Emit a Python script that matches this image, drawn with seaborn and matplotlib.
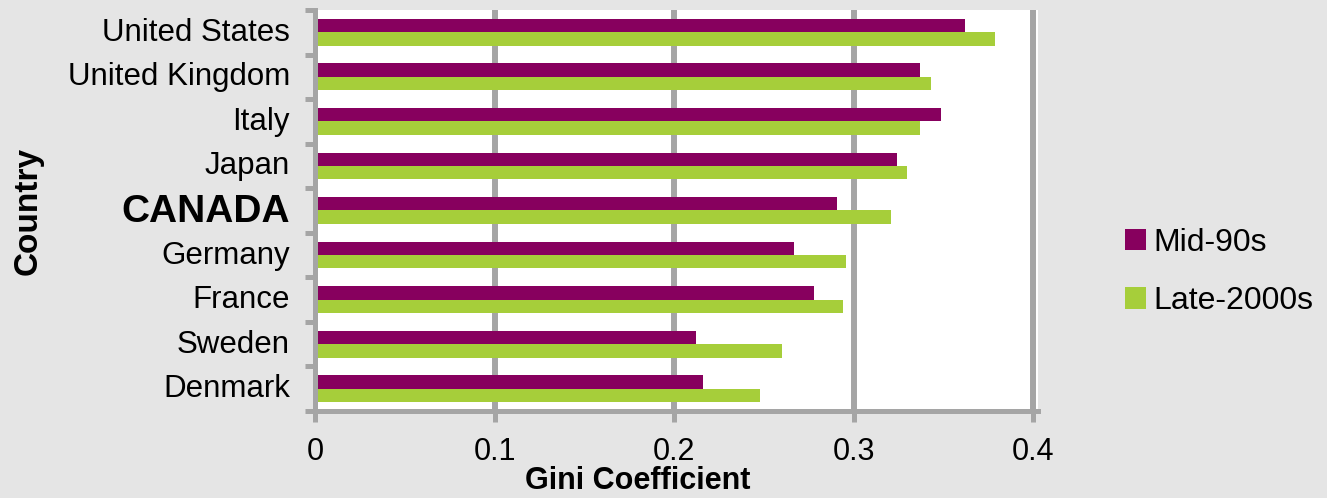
import matplotlib
matplotlib.use("Agg")
import matplotlib.pyplot as plt
from matplotlib.patches import Patch
from matplotlib.ticker import FixedLocator
from matplotlib.transforms import ScaledTranslation
import pandas as pd
import seaborn as sns

# Gini coefficients of disposable income, by country
countries = ["United States", "United Kingdom", "Italy", "Japan", "CANADA",
             "Germany", "France", "Sweden", "Denmark"]
mid_90s = [0.362, 0.337, 0.349, 0.324, 0.291, 0.267, 0.278, 0.212, 0.216]
late_2000s = [0.379, 0.343, 0.337, 0.330, 0.321, 0.296, 0.294, 0.260, 0.248]
periods = ["Mid-90s", "Late-2000s"]
x_ticks = [0, 0.1, 0.2, 0.3, 0.4]
x_tick_labels = ["0", "0.1", "0.2", "0.3", "0.4"]

PURPLE = "#87005e"
GREEN = "#a6ce3a"
GRID = "#a5a5a5"
BG = "#e5e5e5"

sns.set_theme(style="white")
plt.rcParams["font.family"] = ["Liberation Sans", "DejaVu Sans"]
plt.rcParams.update({"text.color": "black", "axes.labelcolor": "black",
                     "xtick.labelcolor": "black", "ytick.labelcolor": "black"})

df = pd.DataFrame({
    "Country": countries * 2,
    "Gini": mid_90s + late_2000s,
    "Period": [periods[0]] * len(countries) + [periods[1]] * len(countries),
})

W, H = 1327, 498
ax_left, ax_right, ax_top, ax_bottom = 315, 1037.5, 10, 411
fig = plt.figure(figsize=(W / 100, H / 100), dpi=100, facecolor=BG)
ax = fig.add_axes([ax_left / W, 1 - ax_bottom / H,
                   (ax_right - ax_left) / W, (ax_bottom - ax_top) / H])
ax.set_facecolor("white")

sns.barplot(data=df, x="Gini", y="Country", hue="Period", order=countries,
            hue_order=periods, palette=[PURPLE, GREEN], width=0.6,
            orient="h", saturation=1, errorbar=None, ax=ax, legend=False)
for p in ax.patches:
    p.set_edgecolor("none")

ax.set_xlim(0, 0.4025)
ax.set_ylim(len(countries) - 0.5, -0.5)

# vertical grid lines
ax.xaxis.set_major_locator(FixedLocator(x_ticks))
ax.grid(axis="x", color=GRID, linewidth=4.3)
ax.grid(axis="y", visible=False)
ax.set_axisbelow(True)

for side in ("top", "right"):
    ax.spines[side].set_visible(False)
for side in ("left", "bottom"):
    ax.spines[side].set_color(GRID)
    ax.spines[side].set_linewidth(3.6)

ax.set_xticks(x_ticks)
ax.set_xticklabels(x_tick_labels)
ax.tick_params(axis="x", which="major", direction="out", length=8, width=3.6,
               color=GRID, labelcolor="black", labelsize=22, pad=11, bottom=True)

# category separators as minor ticks on the y axis
ax.yaxis.set_minor_locator(FixedLocator([i - 0.5 for i in range(len(countries) + 1)]))
ax.tick_params(axis="y", which="minor", direction="out", length=7, width=3.6,
               color=GRID, left=True)
ax.tick_params(axis="y", which="major", length=0, labelsize=22.5,
               labelcolor="black", pad=18)
lift = ScaledTranslation(0, 3 / 100, fig.dpi_scale_trans)
for lbl in ax.get_yticklabels():
    lbl.set_va("center_baseline")
    lbl.set_transform(lbl.get_transform() + lift)
    if lbl.get_text() == "CANADA":
        lbl.set_fontweight("bold")
        lbl.set_fontsize(28)

ax_w = ax_right - ax_left
ax_h = ax_bottom - ax_top
ax.set_xlabel("Gini Coefficient", fontsize=22, fontweight="bold")
ax.xaxis.set_label_coords((638 - ax_left) / ax_w, -(481 - ax_bottom) / ax_h)
ax.xaxis.label.set_va("center")
ax.set_ylabel("Country", fontsize=24, fontweight="bold")
ax.yaxis.set_label_coords(-(ax_left - 28) / ax_w, 0.5)
ax.yaxis.label.set_va("center")

handles = [Patch(facecolor=PURPLE, edgecolor="none"),
           Patch(facecolor=GREEN, edgecolor="none")]
fig.legend(handles, periods, loc="center left",
           bbox_to_anchor=(1112 / W, 1 - 272 / H), frameon=False,
           fontsize=23, handlelength=0.66, handleheight=0.66,
           handletextpad=0.25, labelspacing=0.9, borderaxespad=0)

fig.savefig("out.png", dpi=100, facecolor=BG)
